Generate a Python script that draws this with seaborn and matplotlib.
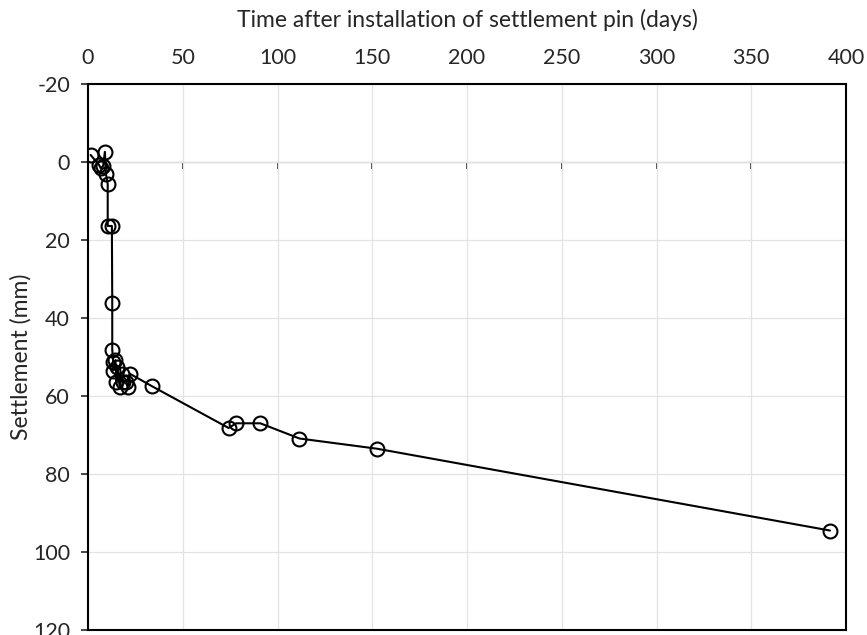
import numpy as np
import pandas as pd
import matplotlib
matplotlib.use('Agg')
import matplotlib.pyplot as plt
import seaborn as sns

# ===== data =====
days = [1.4, 5.9, 6.7, 8.0, 8.9, 9.5, 10.4, 10.4, 12.6, 12.8,
        12.8, 13.3, 13.3, 14.5, 15.0, 15.5, 16.8, 17.7, 18.6, 20.3,
        21.2, 22.1, 33.8, 74.2, 78.2, 90.9, 111.6, 152.3, 391.6]
settlement = [-1.8, 0.8, 1.6, 1.0, -2.6, 3.2, 5.7, 16.4, 16.4, 36.2,
              48.1, 51.4, 53.5, 50.8, 56.5, 52.5, 57.8, 54.3, 56.5, 56.5,
              57.8, 54.3, 57.5, 68.2, 67.0, 67.0, 70.9, 73.5, 94.5]

x_ticks = [0, 50, 100, 150, 200, 250, 300, 350, 400]
y_ticks = [-20, 0, 20, 40, 60, 80, 100, 120]

df = pd.DataFrame({'days': days, 'settlement': settlement})

sns.set_style('white')
plt.rcParams['font.family'] = ['Lato', 'DejaVu Sans']
plt.rcParams['axes.unicode_minus'] = False

fig = plt.figure(figsize=(8.67, 6.35), dpi=100)
ax = fig.add_axes([88 / 867, 1 - 630 / 635, (846 - 88) / 867, (630 - 84) / 635])

sns.lineplot(data=df, x='days', y='settlement', ax=ax, sort=False, estimator=None,
             color='black', linewidth=1.5, marker='o', markersize=10,
             markerfacecolor='none', markeredgecolor='black', markeredgewidth=1.5)

ax.set_xlim(0, 400)
ax.set_ylim(120, -20)
ax.set_xticks(x_ticks)
ax.set_yticks(y_ticks)
ax.grid(True, color='#e3e3e3', linewidth=0.9)
ax.set_axisbelow(True)

# x axis labels on top, no tick marks there
ax.xaxis.set_label_position('top')
ax.tick_params(axis='x', top=False, bottom=False, labeltop=True, labelbottom=False,
               labelsize=15.5, pad=8)
ax.tick_params(axis='y', left=True, direction='out', length=5, width=1.2,
               labelsize=15.5, pad=8)
ax.set_xlabel('Time after installation of settlement pin (days)', fontsize=16.5, labelpad=15)
ax.set_ylabel('Settlement (mm)', fontsize=16.5, labelpad=1)

for sp in ax.spines.values():
    sp.set_visible(True)
    sp.set_color('black')
    sp.set_linewidth(1.5)

# zero line with small upward ticks
zero_frac = (0 - 120) / (-20 - 120)
sec = ax.secondary_xaxis(zero_frac)
sec.set_xticks(x_ticks)
sec.tick_params(axis='x', direction='in', length=5, width=1.2, labelbottom=False, labeltop=False)
sec.spines['bottom'].set_linewidth(1.5)
sec.spines['bottom'].set_color('black')

fig.savefig('out.png', dpi=100)
